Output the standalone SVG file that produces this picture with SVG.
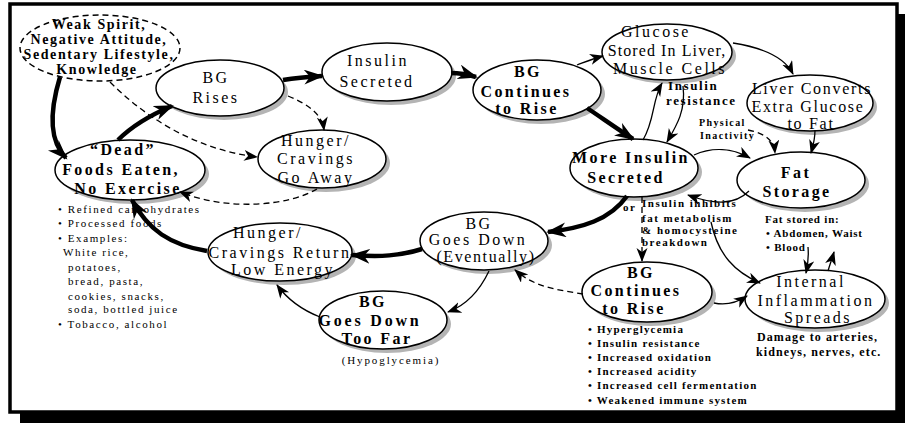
<svg xmlns="http://www.w3.org/2000/svg" width="905" height="423" viewBox="0 0 905 423">
<defs>
<style>
.sh{fill:#b4b4b4}
.nd{fill:#fff;stroke:#000;stroke-width:1.5}
.dn{stroke-dasharray:6 4}
text{font-family:"Liberation Serif","Times New Roman",serif;fill:#000}
.t{font-size:16px;letter-spacing:2.5px;text-anchor:middle}
.b{font-size:16px;font-weight:bold;letter-spacing:2.4px;text-anchor:middle}
.w{font-size:14px;font-weight:bold;letter-spacing:1.6px;text-anchor:middle}
.s{font-size:11px;letter-spacing:1.6px}
.sb{font-size:11px;font-weight:bold;letter-spacing:1.2px}
.c{fill:none;stroke:#000;stroke-width:1.3}
.k{fill:none;stroke:#000;stroke-width:4.5}
.d{stroke-dasharray:6 4}
</style>
<marker id="a" markerUnits="userSpaceOnUse" markerWidth="15" markerHeight="12" refX="13" refY="5.5" orient="auto"><path d="M0,0 L14,5.5 L0,11 L4,5.5Z"/></marker>
<marker id="A" markerUnits="userSpaceOnUse" markerWidth="21" markerHeight="16" refX="18" refY="7.5" orient="auto"><path d="M0,0 L20,7.5 L0,15 L6,7.5Z"/></marker>
</defs>
<g id="frame">
<rect x="20" y="14" width="885" height="409" fill="#000"/>
<rect x="10" y="4" width="887" height="408" fill="#fff" stroke="#000" stroke-width="3.5"/>
</g>
<g id="weak">
<ellipse class="nd dn" cx="100" cy="48" rx="80" ry="33"/>
<text class="w"><tspan x="99" y="29">Weak Spirit,</tspan><tspan x="99" y="44">Negative Attitude,</tspan><tspan x="99" y="59">Sedentary Lifestyle,</tspan><tspan x="97" y="74">Knowledge</tspan></text>
</g>
<g id="bgrises">
<ellipse class="sh" cx="224" cy="92" rx="64" ry="28"/>
<ellipse class="nd" cx="220" cy="88" rx="64" ry="28"/>
<text class="t"><tspan x="216" y="83">BG</tspan><tspan x="216" y="103">Rises</tspan></text>
</g>
<g id="insulin">
<ellipse class="sh" cx="391" cy="76" rx="65" ry="29"/>
<ellipse class="nd" cx="387" cy="72" rx="65" ry="29"/>
<text class="t"><tspan x="378" y="66">Insulin</tspan><tspan x="377" y="87">Secreted</tspan></text>
</g>
<g id="bgcont1">
<ellipse class="sh" cx="541" cy="94" rx="64" ry="30"/>
<ellipse class="nd" cx="537" cy="90" rx="64" ry="30"/>
<text class="b"><tspan x="528" y="77">BG</tspan><tspan x="526" y="97">Continues</tspan><tspan x="527" y="114">to Rise</tspan></text>
</g>
<g id="goaway">
<ellipse class="sh" cx="326" cy="163" rx="64" ry="29"/>
<ellipse class="nd" cx="322" cy="159" rx="64" ry="29"/>
<text class="t"><tspan x="316" y="146">Hunger/</tspan><tspan x="316" y="164">Cravings</tspan><tspan x="316" y="183">Go Away</tspan></text>
</g>
<g id="dead">
<ellipse class="sh" cx="134" cy="174" rx="75" ry="30"/>
<ellipse class="nd" cx="130" cy="170" rx="75" ry="30"/>
<text class="b"><tspan x="123" y="155">“Dead”</tspan><tspan x="121" y="175">Foods Eaten,</tspan><tspan x="128" y="194">No Exercise</tspan></text>
</g>
<g id="glucose">
<ellipse class="sh" cx="671" cy="56" rx="65" ry="28"/>
<ellipse class="nd" cx="667" cy="52" rx="65" ry="28"/>
<text class="t"><tspan x="656" y="37">Glucose</tspan><tspan x="667" y="56" style="letter-spacing:1.1px">Stored In Liver,</tspan><tspan x="670" y="74">Muscle Cells</tspan></text>
</g>
<g id="liver">
<ellipse class="sh" cx="814" cy="107" rx="63" ry="28"/>
<ellipse class="nd" cx="810" cy="103" rx="63" ry="28"/>
<text class="t" style="letter-spacing:1.7px"><tspan x="812" y="94">Liver Converts</tspan><tspan x="808" y="112">Extra Glucose</tspan><tspan x="811" y="129">to Fat</tspan></text>
</g>
<g id="moreins">
<ellipse class="sh" cx="638" cy="172" rx="64" ry="29"/>
<ellipse class="nd" cx="634" cy="168" rx="64" ry="29"/>
<text class="b"><tspan x="631" y="163">More Insulin</tspan><tspan x="626" y="183">Secreted</tspan></text>
</g>
<g id="fat">
<ellipse class="sh" cx="805" cy="184" rx="64" ry="28"/>
<ellipse class="nd" cx="801" cy="180" rx="64" ry="28"/>
<text class="b"><tspan x="796" y="178">Fat</tspan><tspan x="797" y="197">Storage</tspan></text>
</g>
<g id="godown">
<ellipse class="sh" cx="488" cy="245" rx="64" ry="29"/>
<ellipse class="nd" cx="484" cy="241" rx="64" ry="29"/>
<text class="t"><tspan x="479" y="229">BG</tspan><tspan x="478" y="245">Goes Down</tspan><tspan x="486" y="262" style="letter-spacing:1.6px">(Eventually)</tspan></text>
</g>
<g id="return">
<ellipse class="sh" cx="284" cy="256" rx="72" ry="29"/>
<ellipse class="nd" cx="280" cy="252" rx="72" ry="29"/>
<text class="t"><tspan x="268" y="238">Hunger/</tspan><tspan x="280" y="258">Cravings Return</tspan><tspan x="283" y="275">Low Energy</tspan></text>
</g>
<g id="toofar">
<ellipse class="sh" cx="387" cy="324" rx="64" ry="29"/>
<ellipse class="nd" cx="383" cy="320" rx="64" ry="29"/>
<text class="b"><tspan x="373" y="307">BG</tspan><tspan x="370" y="326" style="letter-spacing:2.8px">Goes Down</tspan><tspan x="377" y="344">Too Far</tspan></text>
<text class="s" x="391" y="364" text-anchor="middle" style="letter-spacing:1.9px">(Hypoglycemia)</text>
</g>
<g id="bgcont2">
<ellipse class="sh" cx="651" cy="296" rx="65" ry="30"/>
<ellipse class="nd" cx="647" cy="292" rx="65" ry="30"/>
<text class="b"><tspan x="641" y="278">BG</tspan><tspan x="636" y="296">Continues</tspan><tspan x="634" y="314">to Rise</tspan></text>
</g>
<g id="inflam">
<ellipse class="sh" cx="819" cy="303" rx="70" ry="29"/>
<ellipse class="nd" cx="815" cy="299" rx="70" ry="29"/>
<text class="t"><tspan x="811" y="287">Internal</tspan><tspan x="816" y="306">Inflammation</tspan><tspan x="818" y="323">Spreads</tspan></text>
</g>
<g id="connectors">
<path class="k" d="M60,77 C50,110 48,140 66,158" marker-end="url(#A)"/>
<path class="c d" d="M110,82 C150,122 200,150 257,157" marker-end="url(#a)"/>
<path class="k" d="M118,140 C130,128 148,116 172,106" marker-end="url(#A)"/>
<path class="k" d="M283,80 C295,78 305,77 322,76" marker-end="url(#A)"/>
<path class="c d" d="M288,96 C310,105 322,115 324,130" marker-end="url(#a)"/>
<path class="k" d="M451,73 C460,73 466,74 476,77" marker-end="url(#A)"/>
<path class="c d" d="M317,189 C290,205 230,212 180,192" marker-end="url(#a)"/>
<path class="c" d="M577,65 C585,62 592,59 603,56" marker-end="url(#a)"/>
<path class="k" d="M587,108 C602,118 616,128 633,139" marker-end="url(#A)"/>
<path class="c" d="M733,43 C765,48 785,58 793,74" marker-end="url(#a)"/>
<path class="c" d="M643,140 C655,120 652,100 662,83" marker-end="url(#a)"/>
<path class="c" d="M683,86 C686,110 677,125 667,142" marker-end="url(#a)"/>
<path class="c" d="M694,155 C712,147 732,148 750,158" marker-end="url(#a)"/>
<path class="c d" d="M748,130 C768,134 774,142 775,153" marker-end="url(#a)"/>
<path class="c" d="M815,130 C815,140 813,146 811,153" marker-end="url(#a)"/>
<path class="c" d="M749,191 C735,205 715,205 688,195" marker-end="url(#a)"/>
<path class="k" d="M627,196 C610,220 582,228 548,232" marker-end="url(#A)"/>
<path class="c d" d="M642,197 L642,261" marker-end="url(#a)"/>
<path class="c" d="M711,222 C718,255 735,272 760,283" marker-end="url(#a)"/>
<path class="c" d="M808,247 C809,258 808,264 806,273" marker-end="url(#a)"/>
<path class="c" d="M828,271 C830,264 832,259 834,252" marker-end="url(#a)"/>
<path class="c" d="M714,303 C728,306 738,302 747,296" marker-end="url(#a)"/>
<path class="c d" d="M583,294 C560,290 535,288 515,270" marker-end="url(#a)"/>
<path class="c" d="M489,271 C480,290 467,305 448,312" marker-end="url(#a)"/>
<path class="k" d="M422,249 C400,256 380,257 352,255" marker-end="url(#A)"/>
<path class="c" d="M320,317 C302,310 288,300 277,285" marker-end="url(#a)"/>
<path class="k" d="M207,251 C170,245 148,230 132,200" marker-end="url(#A)"/>
</g>
<g id="labels">
<text class="s"><tspan x="58" y="213">• Refined carbohydrates</tspan><tspan x="58" y="227">• Processed foods</tspan><tspan x="58" y="242">• Examples:</tspan><tspan x="63" y="256">White rice,</tspan><tspan x="68" y="271">potatoes,</tspan><tspan x="68" y="285">bread, pasta,</tspan><tspan x="68" y="300">cookies, snacks,</tspan><tspan x="68" y="313">soda, bottled juice</tspan><tspan x="58" y="328">• Tobacco, alcohol</tspan></text>
<text style="font-size:13px;font-weight:bold;letter-spacing:1.6px"><tspan x="668" y="90">Insulin</tspan><tspan x="666" y="105">resistance</tspan></text>
<text style="font-size:10px;font-weight:bold;letter-spacing:1.4px"><tspan x="699" y="126">Physical</tspan><tspan x="700" y="139">Inactivity</tspan></text>
<text class="sb" x="623" y="211" style="letter-spacing:1.5px">or</text>
<text class="sb" style="letter-spacing:1.5px"><tspan x="642" y="207">Insulin inhibits</tspan><tspan x="642" y="222">fat metabolism</tspan><tspan x="642" y="234">&amp; homocysteine</tspan><tspan x="642" y="246">breakdown</tspan></text>
<text class="sb" style="letter-spacing:0.8px"><tspan x="765" y="223">Fat stored in:</tspan><tspan x="766" y="237">• Abdomen, Waist</tspan><tspan x="766" y="251">• Blood</tspan></text>
<text style="font-size:12px;font-weight:bold;letter-spacing:1.1px"><tspan x="757" y="341">Damage to arteries,</tspan><tspan x="756" y="356">kidneys, nerves, etc.</tspan></text>
<text class="sb"><tspan x="588" y="333">• Hyperglycemia</tspan><tspan x="588" y="347">• Insulin resistance</tspan><tspan x="588" y="361">• Increased oxidation</tspan><tspan x="588" y="375">• Increased acidity</tspan><tspan x="588" y="389">• Increased cell fermentation</tspan><tspan x="588" y="404">• Weakened immune system</tspan></text>
</g>
</svg>
